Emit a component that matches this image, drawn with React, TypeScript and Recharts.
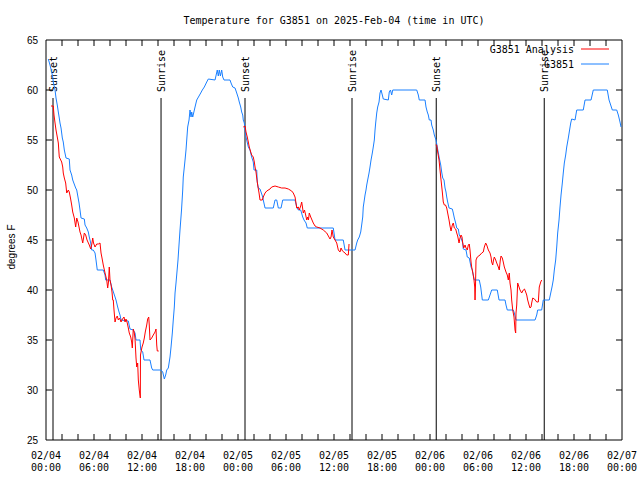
import { LineChart, Line, XAxis, YAxis, ReferenceLine } from 'recharts'

// station observations, [hours since 02/04 00:00 UTC, degrees F]
const observed: [number, number][] = [
  [0.29, 63.1], [0.5, 62.5], [0.71, 61.8], [0.84, 61.3], [0.91, 60.8], [1.13, 60], [1.25, 59.2],
  [1.41, 58.5], [1.54, 57.8], [1.66, 57.2], [1.75, 56.7], [1.88, 56.2], [2.04, 55.2], [2.16, 54.8],
  [2.29, 54], [2.5, 53.2], [2.91, 53.1], [3.0, 52], [3.21, 51.5], [3.34, 51], [3.71, 50.2], [3.84, 50],
  [4.13, 48.7], [4.25, 48], [4.38, 47.2], [4.79, 47.1], [4.88, 46.5], [5.09, 46.2], [5.29, 45.8],
  [5.41, 45.3], [5.59, 44.7], [5.71, 44], [5.91, 44], [6.13, 43.7], [6.25, 43], [6.41, 42], [7.16, 42],
  [7.38, 41.5], [7.46, 41], [8.0, 41], [8.21, 40.3], [8.34, 40], [8.63, 39.3], [8.75, 39], [8.96, 38.3],
  [9.13, 37.8], [9.25, 37.5], [9.38, 37], [10.29, 36.9], [10.5, 36.1], [10.91, 36], [11.13, 35.7],
  [11.25, 35], [11.75, 35], [11.84, 34], [12.09, 33.8], [12.25, 33], [13.0, 33], [13.21, 32.2],
  [13.34, 32], [14.34, 32], [14.59, 31.8], [14.79, 31.1], [14.96, 31.5], [15.09, 32], [15.29, 32.2],
  [15.5, 33.3], [15.63, 34.3], [15.79, 35.7], [15.91, 37], [16.04, 38.3], [16.13, 39.7], [16.25, 40.7],
  [16.5, 43], [16.75, 46], [16.94, 48], [17.09, 50], [17.16, 51.3], [17.29, 52.3], [17.38, 53],
  [17.5, 54], [17.59, 55], [17.71, 56.3], [17.88, 57], [18.0, 58], [18.13, 57.3], [18.21, 57.8],
  [18.34, 57.3], [18.63, 58.3], [18.84, 59], [19.34, 59.7], [19.54, 60], [19.79, 60.3], [20.09, 60.8],
  [20.29, 61.1], [21.13, 61], [21.41, 62], [21.54, 61.4], [21.66, 62], [21.8, 61.4], [21.96, 62],
  [22.09, 61.3], [22.25, 61], [23.0, 61], [23.13, 60.7], [23.34, 60.3], [23.63, 60.2], [23.84, 59.7],
  [24.04, 59.2], [24.16, 58.8], [24.34, 58.3], [24.46, 57.8], [24.59, 57.5], [24.66, 57], [24.79, 56.7],
  [24.88, 56], [25.0, 55.3], [25.29, 54.3], [25.5, 54], [25.71, 53.3], [25.91, 52.8], [26.0, 52],
  [26.34, 52], [26.41, 50.8], [26.54, 50.2], [26.75, 50.1], [27.09, 49.3], [27.16, 49], [27.38, 48.2],
  [28.41, 48.2], [28.63, 49], [28.84, 49], [29.04, 48.2], [29.38, 48.2], [29.59, 49], [31.13, 49],
  [31.34, 48.3], [31.54, 48], [31.84, 48], [32.09, 47.3], [32.25, 47], [32.5, 46.7], [32.66, 46.2],
  [35.91, 46.2], [36.04, 45.5], [36.13, 45], [37.16, 45], [37.38, 44], [38.63, 44], [38.84, 44.7],
  [38.96, 45], [39.16, 45.3], [39.34, 45.8], [39.46, 46.5], [39.59, 47.3], [39.66, 48.3], [39.79, 49],
  [39.88, 49.5], [40.0, 50], [40.09, 50.5], [40.21, 51], [40.38, 51.7], [40.5, 52.3], [40.63, 53],
  [40.79, 53.7], [40.91, 54.3], [41.04, 55], [41.13, 56], [41.21, 56.7], [41.34, 57.7], [41.46, 58.3],
  [41.63, 58.8], [41.75, 59.7], [41.88, 60], [42.04, 59.5], [42.16, 59.1], [42.79, 59], [42.91, 59.8],
  [43.06, 60], [43.21, 59.5], [43.34, 60], [46.34, 60], [46.54, 59.5], [46.66, 59], [47.38, 59],
  [47.5, 58.3], [47.66, 57.8], [47.79, 57.5], [47.91, 57], [48.13, 57], [48.21, 56.5], [48.41, 56],
  [48.54, 55.5], [48.75, 55], [48.91, 54.3], [49.16, 53.2], [49.34, 52.5], [49.46, 51.8], [49.59, 51.2],
  [49.75, 51], [49.88, 50.2], [50.0, 49.8], [50.09, 49.3], [50.21, 48.8], [50.38, 48.2], [50.79, 48.1],
  [50.91, 47.7], [51.04, 47.2], [51.21, 46.7], [51.34, 46.2], [51.54, 46.1], [51.66, 45.5], [51.88, 45.2],
  [52.09, 44.7], [52.16, 44.1], [52.5, 44], [52.66, 43.3], [52.91, 43.2], [53.13, 42.3], [53.29, 42],
  [53.41, 41.5], [53.54, 41], [54.16, 41], [54.34, 40.3], [54.54, 39], [55.29, 39], [55.5, 39.5],
  [55.71, 40], [56.41, 40], [56.63, 39], [57.38, 39], [57.5, 38.5], [57.66, 38], [58.41, 38],
  [58.54, 37.7], [58.75, 37], [61.13, 37], [61.34, 37.5], [61.46, 38], [61.96, 38], [62.16, 39],
  [62.91, 39], [63.09, 39.7], [63.25, 40.3], [63.41, 41], [63.54, 42], [63.71, 43], [63.84, 44.3],
  [63.96, 45.7], [64.13, 47], [64.25, 48.3], [64.38, 49.5], [64.54, 50.7], [64.66, 51.7], [64.79, 52.7],
  [64.96, 53.5], [65.09, 54.3], [65.29, 55.2], [65.41, 55.8], [65.59, 56.7], [65.71, 57.1], [66.13, 57],
  [66.34, 58], [67.16, 58], [67.38, 59], [68.13, 59], [68.41, 60], [70.16, 60], [70.38, 59],
  [70.79, 58], [71.34, 58], [71.54, 57.5], [71.75, 56.8], [71.88, 56.3],
]

// analysis runs, one per night
const analysisFeb04: [number, number][] = [
  [0.63, 58.4], [0.91, 58.4], [1.0, 57.5], [1.13, 56.7], [1.25, 56], [1.41, 55.3], [1.54, 54.7],
  [1.66, 53.3], [1.84, 53], [1.96, 52.8], [2.09, 52.3], [2.16, 51.7], [2.29, 51.2], [2.46, 50.7],
  [2.59, 49.7], [2.79, 50], [2.91, 49.8], [3.06, 49.2], [3.21, 48.5], [3.34, 47.8], [3.54, 47.2],
  [3.71, 46.3], [3.84, 47.2], [4.0, 46.8], [4.25, 45.8], [4.38, 45.5], [4.59, 44.7], [4.69, 45.2],
  [4.79, 45.7], [4.96, 45.5], [5.13, 45], [5.41, 44.5], [5.59, 44.1], [5.71, 44.5], [5.84, 45.2],
  [5.94, 44.7], [6.13, 44.3], [6.34, 44.6], [6.54, 44.6], [6.75, 44.7], [6.88, 43.7], [7.0, 43.2],
  [7.16, 42.5], [7.38, 41.7], [7.59, 41], [7.71, 40.2], [7.81, 40.8], [7.91, 42.3], [8.0, 41],
  [8.13, 40.5], [8.25, 39.8], [8.34, 39], [8.41, 39], [8.5, 38], [8.63, 36.8], [8.75, 37.2],
  [8.91, 37.4], [9.04, 37], [9.19, 37.2], [9.38, 36.8], [9.56, 37.1], [9.75, 37.3], [9.88, 36.8],
  [10.0, 37.1], [10.16, 36.7], [10.29, 36.2], [10.41, 35.7], [10.59, 35.3], [10.71, 34.8], [10.79, 34.2],
  [10.91, 36.1], [11.04, 35.7], [11.13, 35.1], [11.25, 33.2], [11.34, 32.3], [11.46, 32.7], [11.54, 31],
  [11.66, 30], [11.79, 29.2], [11.81, 33.5], [11.88, 33.8], [12.0, 34.3], [12.16, 34.7], [12.29, 35.2],
  [12.41, 35.8], [12.59, 36.5], [12.71, 37.1], [12.84, 37.3], [12.91, 36.5], [13.0, 35], [13.21, 35.2],
  [13.41, 35.5], [13.63, 35.8], [13.75, 36.1], [13.84, 34.5], [13.91, 33.9], [14.09, 33.9],
]

const analysisFeb05: [number, number][] = [
  [24.66, 56.3], [24.88, 56.4], [25.0, 55.8], [25.16, 55.3], [25.29, 54.8], [25.41, 54.3], [25.59, 53.8],
  [25.71, 53.5], [25.91, 53.3], [26.04, 52.8], [26.13, 52.3], [26.25, 51.8], [26.34, 51.2], [26.46, 50.5],
  [26.63, 49.7], [26.75, 49], [27.04, 49], [27.16, 49.3], [27.38, 49.7], [27.59, 49.9], [28.0, 50.1],
  [28.21, 50.3], [28.63, 50.4], [29.04, 50.3], [29.46, 50.2], [29.88, 50.2], [30.29, 50.1], [30.71, 49.9],
  [30.91, 49.7], [31.13, 49.3], [31.25, 48.7], [31.34, 48.2], [31.54, 48.3], [31.66, 48], [31.84, 48.4],
  [31.96, 48.8], [32.06, 48.3], [32.16, 47.7], [32.31, 48], [32.46, 47.5], [32.59, 47], [32.71, 47.3],
  [32.81, 47], [32.91, 47.7], [33.09, 47.3], [33.25, 47], [33.41, 46.7], [33.63, 46.4], [33.84, 46.3],
  [34.25, 46.2], [34.66, 46], [35.09, 45.7], [35.5, 45.1], [35.63, 45.3], [35.75, 46], [35.91, 45.3],
  [36.13, 45], [36.34, 44.7], [36.54, 44], [36.75, 43.8], [36.88, 44.2], [37.06, 43.9], [37.38, 43.7],
  [37.59, 43.5], [37.79, 43.5], [37.88, 44.6],
]

const analysisFeb06: [number, number][] = [
  [48.71, 54.5], [48.84, 54.5], [48.96, 53.8], [49.13, 53], [49.25, 52], [49.38, 51], [49.54, 49.8],
  [49.66, 48.8], [49.79, 48.5], [49.94, 48.5], [50.09, 48.2], [50.21, 47.7], [50.38, 47], [50.5, 46.4],
  [50.63, 45.9], [50.79, 46.5], [50.91, 46.7], [51.04, 46.2], [51.21, 46.1], [51.34, 45.7], [51.46, 45.4],
  [51.63, 44.7], [51.75, 45.2], [51.88, 45.5], [52.0, 45.3], [52.09, 44.7], [52.21, 44.2], [52.38, 44.5],
  [52.5, 44.2], [52.66, 44], [52.79, 44.5], [52.91, 44.6], [53.0, 44], [53.13, 42.8], [53.21, 42.3],
  [53.38, 41.6], [53.5, 41], [53.59, 40.3], [53.63, 39], [53.69, 40.5], [53.75, 43], [53.91, 43.3],
  [54.25, 43.5], [54.46, 43.7], [54.66, 43.8], [54.79, 44.3], [54.96, 44.7], [55.09, 44.5], [55.29, 44],
  [55.5, 43.7], [55.63, 43.3], [55.71, 42.8], [55.84, 42.5], [55.94, 43], [56.04, 43.3], [56.21, 43],
  [56.34, 42.7], [56.54, 42.3], [56.66, 42], [56.79, 43], [56.88, 43.4], [57.04, 43.2], [57.16, 42.8],
  [57.29, 42.3], [57.5, 41.8], [57.66, 41.5], [57.79, 41], [57.91, 41.7], [58.0, 40.7], [58.13, 40],
  [58.21, 39], [58.34, 38], [58.5, 37.3], [58.63, 36], [58.71, 35.7], [58.75, 37.7], [58.84, 38.5],
  [58.96, 40.7], [59.13, 40.3], [59.25, 40], [59.46, 39.7], [59.66, 40], [59.81, 40.1], [59.96, 39.8],
  [60.09, 39.5], [60.21, 39], [60.38, 38.5], [60.5, 38.2], [60.63, 38.3], [60.71, 38.7], [60.84, 39.2],
  [61.06, 39.1], [61.34, 38.8], [61.54, 38.8], [61.66, 40.3], [61.84, 40.8], [61.96, 41],
]

const sunEvents: [number, string][] = [
  [0.875, 'Sunset'], [14.38, 'Sunrise'], [24.875, 'Sunset'],
  [38.25, 'Sunrise'], [48.78, 'Sunset'], [62.28, 'Sunrise'],
]
const eventLineTop = 59.2

const hourTicks = Array.from({ length: 37 }, (_, i) => i * 2)
const tempTicks = [25, 30, 35, 40, 45, 50, 55, 60, 65]
const X_MIN = 0
const X_MAX = 72
const Y_MIN = 25
const Y_MAX = 65

// chart frame (same numbers as the LineChart margins / axis sizes below)
const PLOT_LEFT = 46
const PLOT_RIGHT = 622
const PLOT_TOP = 40
const PLOT_BOTTOM = 440
const TICK_PX = 6

const RED = '#ff0000'
const BLUE = '#1a80ff'
const MONO = '"DejaVu Sans Mono", monospace'
const SANS = '"Liberation Sans", Arial, sans-serif'

const toRows = (pts: [number, number][]) => pts.map(([h, t]) => ({ h, t }))

const xPx = (h: number) => PLOT_LEFT + ((h - X_MIN) / (X_MAX - X_MIN)) * (PLOT_RIGHT - PLOT_LEFT)
const yPx = (v: number) => PLOT_BOTTOM - ((v - Y_MIN) / (Y_MAX - Y_MIN)) * (PLOT_BOTTOM - PLOT_TOP)

function BottomTick({ x, y, payload }: any) {
  const h = payload.value as number
  if (h % 6 !== 0) return <g />
  const day = 4 + Math.floor(h / 24)
  const hh = String(h % 24).padStart(2, '0')
  return (
    <text x={x} y={y + 19} textAnchor="middle" fontFamily={MONO} fontSize={10} fill="#000">
      <tspan x={x}>{`02/0${day}`}</tspan>
      <tspan x={x} dy={12}>{`${hh}:00`}</tspan>
    </text>
  )
}

function LeftTick({ x, y, payload }: any) {
  return (
    <text x={x - 8} y={y + 4} textAnchor="end" fontFamily={SANS} fontSize={10} fill="#000">
      {payload.value}
    </text>
  )
}

function EventLabel({ viewBox, text }: any) {
  if (!viewBox) return null
  const x = viewBox.x
  const top = Math.min(viewBox.y, viewBox.y + (viewBox.height || 0))
  return (
    <text
      x={x + 4}
      y={top - 6}
      transform={`rotate(-90 ${x + 4} ${top - 6})`}
      fontFamily={MONO}
      fontSize={10}
      fill="#000"
    >
      {text}
    </text>
  )
}

// gnuplot-style inward tick marks on all four sides of the frame
function FrameTicks() {
  const hours = hourTicks.filter((h) => h > X_MIN && h < X_MAX)
  const temps = tempTicks.filter((v) => v > Y_MIN && v < Y_MAX)
  return (
    <g stroke="#000" strokeWidth={1}>
      {hours.map((h) => (
        <g key={`h${h}`}>
          <line x1={xPx(h)} x2={xPx(h)} y1={PLOT_BOTTOM} y2={PLOT_BOTTOM - TICK_PX} />
          <line x1={xPx(h)} x2={xPx(h)} y1={PLOT_TOP} y2={PLOT_TOP + TICK_PX} />
        </g>
      ))}
      {temps.map((v) => (
        <g key={`v${v}`}>
          <line x1={PLOT_LEFT} x2={PLOT_LEFT + TICK_PX} y1={yPx(v)} y2={yPx(v)} />
          <line x1={PLOT_RIGHT} x2={PLOT_RIGHT - TICK_PX} y1={yPx(v)} y2={yPx(v)} />
        </g>
      ))}
    </g>
  )
}

export default function App() {
  return (
    <div style={{ position: 'absolute', left: 0, top: 0, width: 640, height: 480, background: '#fff' }}>
      <LineChart width={640} height={480} margin={{ top: PLOT_TOP, right: 640 - PLOT_RIGHT, bottom: 0, left: 8 }}>
        <XAxis
          xAxisId="b"
          type="number"
          dataKey="h"
          domain={[X_MIN, X_MAX]}
          ticks={hourTicks}
          interval={0}
          allowDataOverflow
          height={480 - PLOT_BOTTOM}
          tickSize={0}
          tickMargin={0}
          tickLine={false}
          axisLine={{ stroke: '#000' }}
          tick={<BottomTick />}
        />
        <YAxis
          yAxisId="l"
          type="number"
          domain={[Y_MIN, Y_MAX]}
          ticks={tempTicks}
          interval={0}
          allowDataOverflow
          width={PLOT_LEFT - 8}
          tickSize={0}
          tickMargin={0}
          tickLine={false}
          axisLine={{ stroke: '#000' }}
          tick={<LeftTick />}
        />
        <ReferenceLine xAxisId="b" yAxisId="l" y={Y_MAX} stroke="#000" ifOverflow="visible" />
        <ReferenceLine xAxisId="b" yAxisId="l" x={X_MAX} stroke="#000" ifOverflow="visible" />
        {sunEvents.map(([h, name], i) => (
          <ReferenceLine
            key={`ev${i}`}
            xAxisId="b"
            yAxisId="l"
            segment={[{ x: h, y: Y_MIN }, { x: h, y: eventLineTop }]}
            stroke="#000"
            strokeWidth={1}
            label={<EventLabel text={name} />}
          />
        ))}
        <Line
          xAxisId="b"
          yAxisId="l"
          data={toRows(observed)}
          dataKey="t"
          type="linear"
          stroke={BLUE}
          strokeWidth={1}
          dot={false}
          isAnimationActive={false}
        />
        {[analysisFeb04, analysisFeb05, analysisFeb06].map((run, i) => (
          <Line
            key={`an${i}`}
            xAxisId="b"
            yAxisId="l"
            data={toRows(run)}
            dataKey="t"
            type="linear"
            stroke={RED}
            strokeWidth={1}
            dot={false}
            isAnimationActive={false}
          />
        ))}
      </LineChart>
      <svg
        width={640}
        height={480}
        style={{ position: 'absolute', left: 0, top: 0, pointerEvents: 'none' }}
      >
        <FrameTicks />
        <text x={334} y={24} textAnchor="middle" fontFamily={MONO} fontSize={10} fill="#000">
          Temperature for G3851 on 2025-Feb-04 (time in UTC)
        </text>
        <text
          x={15}
          y={247}
          transform="rotate(-90 15 247)"
          textAnchor="middle"
          fontFamily={SANS}
          fontSize={10}
          fill="#000"
        >
          degrees F
        </text>
        <text x={574} y={53} textAnchor="end" fontFamily={MONO} fontSize={10} fill="#000">
          G3851 Analysis
        </text>
        <line x1={581} x2={609} y1={49} y2={49} stroke={RED} />
        <text x={574} y={68} textAnchor="end" fontFamily={MONO} fontSize={10} fill="#000">
          G3851
        </text>
        <line x1={581} x2={609} y1={64} y2={64} stroke={BLUE} />
      </svg>
    </div>
  )
}
